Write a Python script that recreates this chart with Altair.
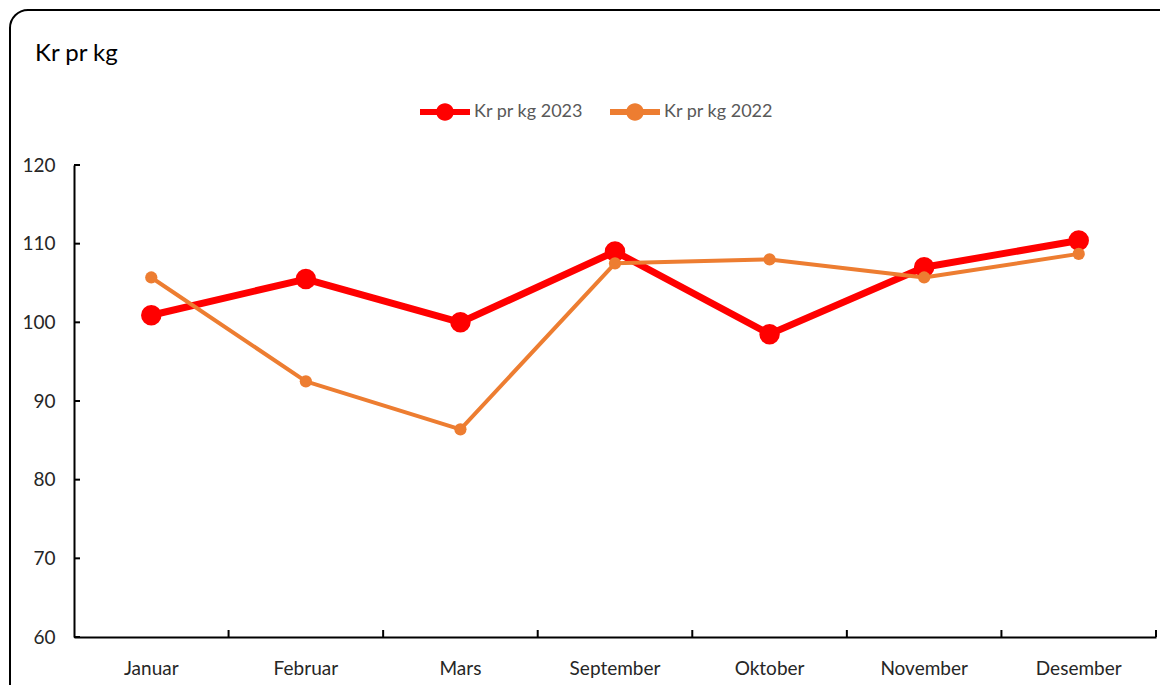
import altair as alt
import pandas as pd

months = ["Januar", "Februar", "Mars", "September", "Oktober", "November", "Desember"]
series_names = ["Kr pr kg 2023", "Kr pr kg 2022"]
values_2023 = [100.9, 105.5, 100.0, 109.0, 98.5, 107.0, 110.4]
values_2022 = [105.7, 92.5, 86.4, 107.5, 108.0, 105.7, 108.7]
y_ticks = [60, 70, 80, 90, 100, 110, 120]
colors = ["#FF0000", "#ED7D31"]

W, H = 1082, 472
FONT = "Lato"

rows = []
for m, v in zip(months, values_2023):
    rows.append({"month": m, "series": series_names[0], "value": v})
for m, v in zip(months, values_2022):
    rows.append({"month": m, "series": series_names[1], "value": v})
df = pd.DataFrame(rows)

x_scale = alt.Scale(type="band", domain=months, paddingInner=0, paddingOuter=0)
y_scale = alt.Scale(domain=[60, 120], nice=False, zero=False)
color_scale = alt.Scale(domain=series_names, range=colors)

legend = alt.Legend(
    title=None, orient="none", legendX=346, legendY=-78, direction="horizontal",
    symbolType="M-1,-0.12L1,-0.12L1,0.12L-1,0.12Z M-0.35,0A0.35,0.35 0 1,1 0.35,0A0.35,0.35 0 1,1 -0.35,0Z",
    symbolSize=2500, symbolStrokeWidth=0, symbolOpacity=1,
    labelFont=FONT, labelFontSize=18, labelColor="#595959", labelOffset=4,
    columnPadding=26,
)

base = alt.Chart(df)

def series_layers(name, color, width, size):
    sub = base.transform_filter(alt.datum.series == name)
    line = sub.mark_line(strokeWidth=width, strokeJoin="round", strokeCap="round", color=color).encode(
        x=alt.X("month:N", scale=x_scale, sort=months, bandPosition=0.5,
                axis=alt.Axis(title=None, ticks=False, grid=False, labelAngle=0,
                              domainColor="#000000", domainWidth=2,
                              labelFont=FONT, labelFontSize=19, labelColor="#262626",
                              labelPadding=22)),
        y=alt.Y("value:Q", scale=y_scale,
                axis=alt.Axis(title=None, values=y_ticks, ticks=False, grid=False,
                              domainColor="#000000", domainWidth=2,
                              labelFont=FONT, labelFontSize=19, labelColor="#262626",
                              labelPadding=19)),
    )
    pts = sub.mark_circle(size=size, opacity=1).encode(
        x=alt.X("month:N", scale=x_scale, sort=months, bandPosition=0.5),
        y=alt.Y("value:Q", scale=y_scale),
        color=alt.Color("series:N", scale=color_scale, legend=legend),
    )
    return [line, pts]

layers_2023 = series_layers(series_names[0], colors[0], 7, 420)
layers_2022 = series_layers(series_names[1], colors[1], 4, 150)

# inward ticks on the x axis (at band boundaries) and y axis
x_ticks = alt.Chart(pd.DataFrame({"month": months})).mark_rule(color="#000000", strokeWidth=2).encode(
    x=alt.X("month:N", scale=x_scale, sort=months, bandPosition=1),
    y=alt.value(H - 7), y2=alt.value(H),
)
y_tick_marks = alt.Chart(pd.DataFrame({"tick": y_ticks})).mark_rule(color="#000000", strokeWidth=2).encode(
    y=alt.Y("tick:Q", scale=y_scale),
    x=alt.value(0), x2=alt.value(6),
)

title = alt.Chart(pd.DataFrame({"t": ["Kr pr kg"]})).mark_text(
    font=FONT, fontSize=24, color="#000000", align="left", baseline="alphabetic"
).encode(text="t:N", x=alt.value(-39), y=alt.value(-104))

border = alt.Chart(pd.DataFrame({"b": [1]})).mark_rect(
    fill="transparent", stroke="#000000", strokeWidth=2, cornerRadius=18, clip=False
).encode(x=alt.value(-64), x2=alt.value(W + 60), y=alt.value(-155), y2=alt.value(H + 80))

chart = alt.layer(
    border, *layers_2023, *layers_2022, x_ticks, y_tick_marks, title
).properties(
    width=W, height=H,
    autosize=alt.AutoSizeParams(type="none"),
    padding={"left": 66, "top": 157, "right": 4, "bottom": 48},
    background="#FFFFFF",
).configure_view(stroke=None)

chart.save("out.html", embed_options={"renderer": "svg", "actions": False})
